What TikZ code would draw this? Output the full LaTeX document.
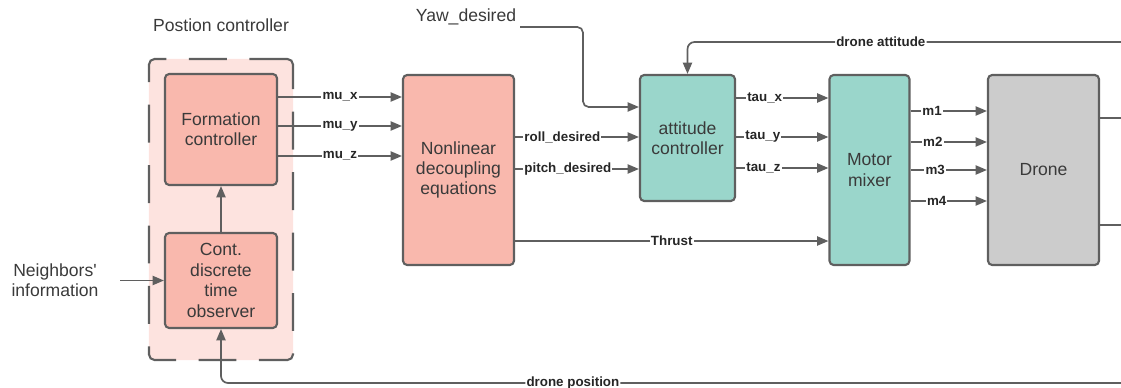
\documentclass[tikz,border=0pt]{standalone}
\usepackage{fontspec}
\setmainfont{Liberation Sans}[Ligatures=TeXOff]
\usepackage{tikz}
\usetikzlibrary{arrows.meta}
\definecolor{edge}{HTML}{5F5F5F}
\definecolor{ink}{HTML}{3A3A3A}
\definecolor{salmon}{HTML}{F9B8AD}
\definecolor{blush}{HTML}{FDE3DF}
\definecolor{mint}{HTML}{9AD6CB}
\definecolor{stone}{HTML}{CCCCCC}
\tikzstyle{block}=[draw=edge, line width=1.5pt, rounded corners=3pt,
    text=ink, align=center, inner sep=2pt,
    font=\fontsize{12.5}{14.5}\selectfont]
\tikzstyle{plain} = [block, draw=none]
\tikzstyle{position} = [block, fill=salmon, minimum width=2.8cm]
\tikzstyle{attitude} = [block, fill=mint]
\tikzstyle{plant} = [block, fill=stone]
\tikzstyle{group}=[draw=edge, fill=blush, line width=1.5pt,
    dash pattern=on 27pt off 16pt, rounded corners=4pt]
\tikzstyle{wire}=[draw=edge, line width=1.2pt]
\tikzstyle{signal}=[wire, -{Triangle[length=8pt,width=6.5pt]}]
\tikzstyle{lbl}=[fill=white, inner sep=0.8pt, text=black!85,
    font=\bfseries\fontsize{9.5}{11}\selectfont]

\begin{document}
\begin{tikzpicture}[x=0.025cm,y=-0.025cm]
\useasboundingbox (0,0) rectangle (1121,388);
% Position controller
\path (221,209.5) node [group, minimum width=3.6cm, minimum height=7.525cm] (grp) {};
\path (221,25) node [plain] (title) {Postion controller};
\path (221,129.5) node [position, minimum height=2.775cm] (form) {Formation\\controller};
\path (221,280.5) node [position, minimum height=2.375cm] (obs) {Cont.\\discrete\\time\\observer};
\path (55,280.5) node [plain] (neigh) {Neighbors'\\information};
% Decoupling
\path (458.5,170) node [position, minimum width=2.775cm, minimum height=4.75cm] (nonlin) {Nonlinear\\decoupling\\equations};
\path (466,17) node [plain] (yaw) {Yaw\_desired};
% Attitude loop
\path (687.5,138) node [attitude, minimum width=2.375cm, minimum height=3.15cm] (att) {attitude\\controller};
\path (869.5,170) node [attitude, minimum width=2cm, minimum height=4.75cm] (mixer) {Motor\\mixer};
% Drone
\path (1043.5,170) node [plant, minimum width=2.775cm, minimum height=4.75cm] (drone) {Drone};
\coordinate (attin) at (1121,42);
\coordinate (posin) at (1121,383);
\coordinate (outa) at (1121,118);
\coordinate (outb) at (1121,225);

% arrows
\draw [signal] (obs) -- (form);
\draw [signal] ([xshift=0.45cm]neigh.east) -- (obs.west);
\draw [signal] (form.east |- 0,97) -- node [lbl] {mu\_x} (nonlin.west |- 0,97);
\draw [signal] (form.east |- 0,126) -- node [lbl] {mu\_y} (nonlin.west |- 0,126);
\draw [signal] (form.east |- 0,156) -- node [lbl] {mu\_z} (nonlin.west |- 0,156);
\draw [signal] (nonlin.east |- 0,137) -- node [lbl, pos=0.06, anchor=west] {roll\_desired} (att.west |- 0,137);
\draw [signal] (nonlin.east |- 0,169) -- node [lbl, pos=0.06, anchor=west] {pitch\_desired} (att.west |- 0,169);
\draw [signal, rounded corners=4pt] (yaw.east |- 0,27) -- (583,27) -- (583,107) -- (att.west |- 0,107);
\draw [signal] (nonlin.east |- 0,241) -- node [lbl] {Thrust} (mixer.west |- 0,241);
\draw [signal] (att.east |- 0,98) -- node [lbl, pos=0.1, anchor=west] {tau\_x} (mixer.west |- 0,98);
\draw [signal] (att.east |- 0,137) -- node [lbl, pos=0.08, anchor=west] {tau\_y} (mixer.west |- 0,137);
\draw [signal] (att.east |- 0,168) -- node [lbl, pos=0.09, anchor=west] {tau\_z} (mixer.west |- 0,168);
\draw [signal] (mixer.east |- 0,111) -- node [lbl, pos=0.13, anchor=west] {m1} (drone.west |- 0,111);
\draw [signal] (mixer.east |- 0,142) -- node [lbl, pos=0.14, anchor=west] {m2} (drone.west |- 0,142);
\draw [signal] (mixer.east |- 0,170) -- node [lbl, pos=0.17, anchor=west] {m3} (drone.west |- 0,170);
\draw [signal] (mixer.east |- 0,201) -- node [lbl, pos=0.19, anchor=west] {m4} (drone.west |- 0,201);
\draw [wire] (drone.east |- outa) -- (outa);
\draw [wire] (drone.east |- outb) -- (outb);
% feedback
\draw [signal, rounded corners=5pt] (attin) -- node [lbl, pos=0.554] {drone attitude} (att.north |- attin) -- (att.north);
\draw [signal, rounded corners=5pt] (posin) -- node [lbl, pos=0.609] {drone position} (obs.south |- posin) -- (obs.south);
\end{tikzpicture}
\end{document}
